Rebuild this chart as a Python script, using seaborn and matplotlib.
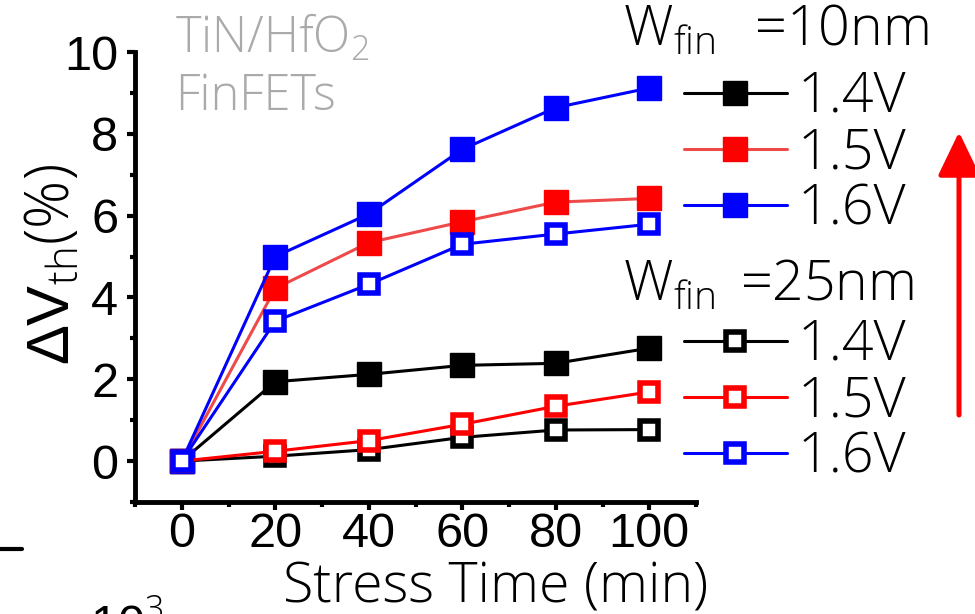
import matplotlib
matplotlib.use("Agg")
import matplotlib.pyplot as plt
from matplotlib.lines import Line2D
from matplotlib.ticker import MultipleLocator
import seaborn as sns

# Stress time (min) and threshold-voltage shift (%) for each fin width / gate bias
time_min = [0, 20, 40, 60, 80, 100]
w10_14v = [0, 1.94, 2.12, 2.34, 2.39, 2.76]
w10_15v = [0, 4.22, 5.34, 5.85, 6.33, 6.42]
w10_16v = [0, 5.00, 6.04, 7.62, 8.64, 9.12]
w25_14v = [0, 0.12, 0.28, 0.58, 0.76, 0.77]
w25_15v = [0, 0.24, 0.50, 0.90, 1.34, 1.69]
w25_16v = [0, 3.42, 4.32, 5.30, 5.55, 5.79]
volt_labels = ["1.4V", "1.5V", "1.6V"]
x_ticks = [0, 20, 40, 60, 80, 100]
y_ticks = [0, 2, 4, 6, 8, 10]

sns.set_style("ticks")
plt.rcParams["font.family"] = ["Liberation Sans", "DejaVu Sans"]
for key in ("text.color", "axes.labelcolor", "xtick.color", "ytick.color",
            "axes.edgecolor"):
    plt.rcParams[key] = "black"
plt.rcParams["mathtext.fontset"] = "custom"
plt.rcParams["mathtext.rm"] = "Open Sans:light"
plt.rcParams["mathtext.it"] = "Open Sans:light:italic"
plt.rcParams["mathtext.bf"] = "Open Sans:bold"

THIN = dict(family="Open Sans", weight="light")

fig = plt.figure(figsize=(9.75, 6.14), dpi=100)
ax = fig.add_axes([135 / 975, 1 - 502 / 614, 561 / 975, 450 / 614])

BLACK, RED, LRED, BLUE = "#000000", "#ff0000", "#ef4a4a", "#0000ff"
LW = 2.2

def filled(vals, color, line_color=None):
    sns.lineplot(x=time_min, y=vals, ax=ax, color=line_color or color,
                 marker="s", markersize=17, markerfacecolor=color,
                 markeredgecolor=color, markeredgewidth=1, linewidth=LW,
                 legend=False)
    return ax.lines[-1]

def hollow(vals, color):
    sns.lineplot(x=time_min, y=vals, ax=ax, color=color,
                 marker="s", markersize=12.6, markerfacecolor="white",
                 markeredgecolor=color, markeredgewidth=4.0, linewidth=LW,
                 legend=False)
    return ax.lines[-1]

h10 = [filled(w10_14v, BLACK), filled(w10_15v, RED, LRED), filled(w10_16v, BLUE)]
h25 = [hollow(w25_14v, BLACK), hollow(w25_15v, RED), hollow(w25_16v, BLUE)]

ax.set_xlim(-10, 110)
ax.set_ylim(-1, 10)
ax.set_xticks(x_ticks)
ax.set_yticks(y_ticks)
ax.xaxis.set_minor_locator(MultipleLocator(10))
ax.yaxis.set_minor_locator(MultipleLocator(1))
sns.despine(ax=ax)
for side in ("left", "bottom"):
    ax.spines[side].set_linewidth(3.5)
    ax.spines[side].set_color("black")
ax.tick_params(which="major", direction="out", length=6, width=3.0,
               labelsize=35, color="black", labelcolor="black")
ax.tick_params(axis="x", which="major", pad=1)
ax.tick_params(axis="y", which="major", pad=6)
ax.tick_params(which="minor", direction="out", length=3.5, width=3.0, color="black")

ax.set_xlabel("Stress Time (min)", fontsize=40, **THIN)
ax.xaxis.set_label_coords(0.643, -0.129)
ax.set_ylabel(r"ΔV$_{\mathrm{th}}$$\mathrm{(\%)}$", fontsize=43)
ax.yaxis.set_label_coords(-0.098, 0.528)

# device annotation
fig.text(175 / 975, 1 - 53 / 614, r"TiN/HfO$_2$", fontsize=35, color="#aaaaaa",
         va="baseline", ha="left", **THIN)
fig.text(175 / 975, 1 - 110 / 614, "FinFETs", fontsize=35, color="#aaaaaa",
         va="baseline", ha="left", **THIN)

# legends for the two fin widths
leg_kw = dict(loc="upper left", frameon=False, handlelength=1.85,
              handletextpad=0.2, labelspacing=0.02, borderpad=0,
              borderaxespad=0, prop=dict(size=40, **THIN))
fig.legend(handles=h10, labels=volt_labels,
           bbox_to_anchor=(684 / 975, 1 - 70 / 614), **leg_kw)
fig.legend(handles=h25, labels=volt_labels,
           bbox_to_anchor=(684 / 975, 1 - 318 / 614), **leg_kw)
fig.text(623 / 975, 1 - 45 / 614, r"W$_{\mathrm{fin}}$  $\,$=10nm", fontsize=40,
         va="baseline", ha="left", **THIN)
fig.text(623 / 975, 1 - 300 / 614, r"W$_{\mathrm{fin}}$ $\,$=25nm", fontsize=40,
         va="baseline", ha="left", **THIN)

# trend arrow
ax.annotate("", xy=(959 / 975, 1 - 132 / 614), xytext=(959 / 975, 1 - 415 / 614),
            xycoords="figure fraction", textcoords="figure fraction",
            arrowprops=dict(arrowstyle="-|>,head_length=1.35,head_width=0.65",
                            mutation_scale=20, lw=3.6, color="#ff0000",
                            shrinkA=0, shrinkB=0))

# edge of the neighbouring panel
fig.add_artist(Line2D([0, 22 / 975], [1 - 549 / 614] * 2, lw=3, color="black",
                      transform=fig.transFigure))
fig.text(90 / 975, 1 - 640 / 614, r"10$^3$", fontsize=35, va="baseline",
         ha="left", family="Liberation Sans")

fig.savefig("out.png", dpi=100)
